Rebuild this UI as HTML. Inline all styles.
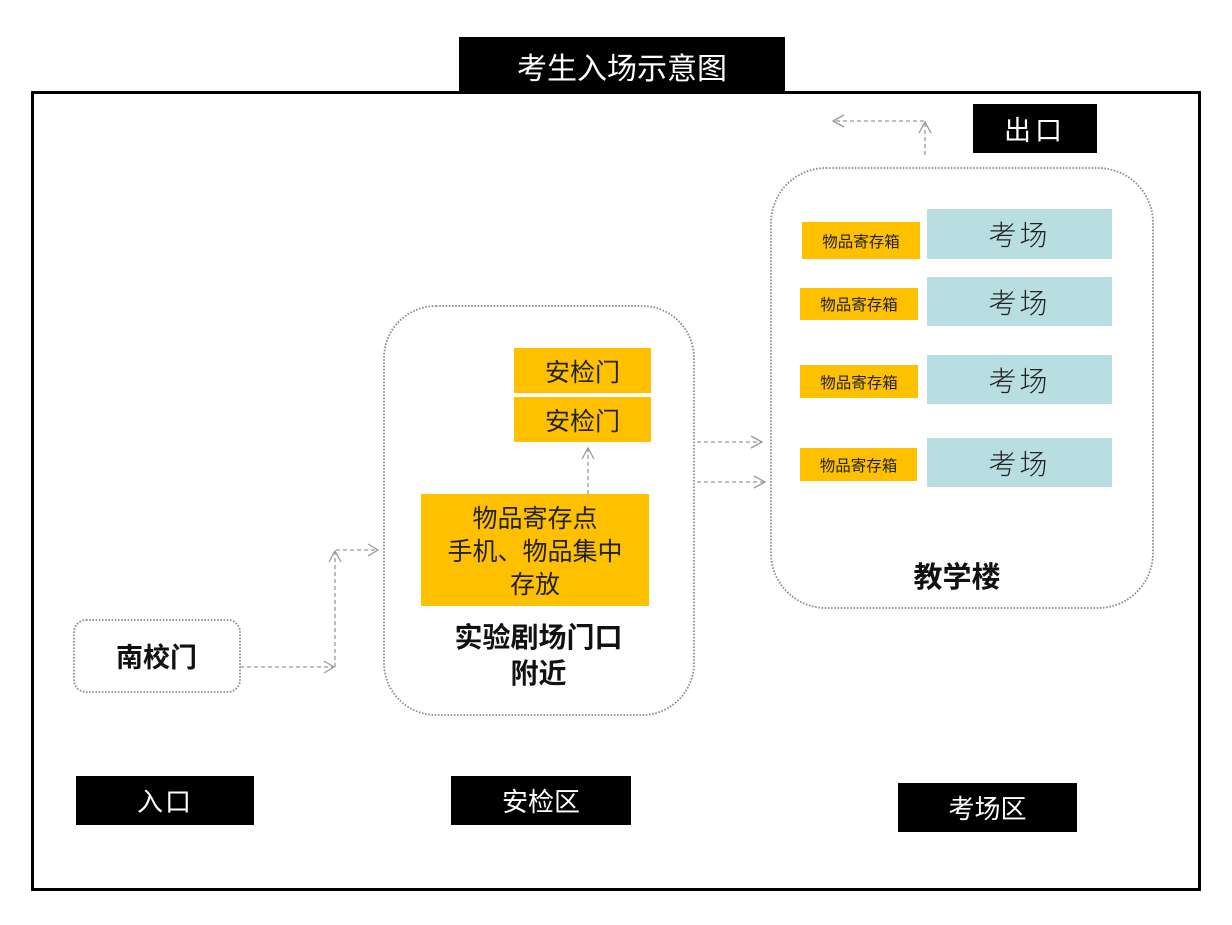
<!DOCTYPE html>
<html>
<head>
<meta charset="utf-8">
<style>
html,body{margin:0;padding:0;background:#fff;}
body{width:1232px;height:925px;position:relative;overflow:hidden;font-family:"Liberation Sans","Noto Sans CJK SC",sans-serif;}
.a{position:absolute;box-sizing:border-box;}
.blk{background:#000;color:#fff;display:flex;align-items:center;justify-content:center;font-family:"Noto Sans CJK SC",sans-serif;font-weight:400;}
.org{background:#FFC000;color:#222;display:flex;align-items:center;justify-content:center;font-family:"Noto Sans CJK SC",sans-serif;}
.teal{background:#B8DEE2;color:#222;display:flex;align-items:center;justify-content:center;font-family:"Noto Sans CJK SC",sans-serif;font-size:28px;letter-spacing:3px;font-weight:300;}
.bold{font-family:"Noto Sans CJK SC",sans-serif;font-weight:700;color:#111;text-align:center;}
.small{font-size:15.5px;}
</style>
</head>
<body>
<!-- main frame -->
<div class="a" style="left:31px;top:91px;width:1170px;height:800px;border:3px solid #000;"></div>
<!-- title -->
<div class="a blk" style="left:459px;top:37px;width:326px;height:57px;font-size:30px;">考生入场示意图</div>

<!-- exit -->
<div class="a blk" style="left:973px;top:104px;width:124px;height:49px;font-size:27px;letter-spacing:4px;">出口</div>

<!-- containers (dotted) -->
<svg class="a" style="left:0;top:0;" width="1232" height="925" viewBox="0 0 1232 925">
<g fill="none" stroke="#8c8c8c" stroke-width="1.8" stroke-dasharray="1.6 1.6">
  <rect x="74" y="620" width="166" height="72" rx="12"/>
  <rect x="384" y="306" width="310" height="409" rx="52"/>
  <rect x="771" y="168" width="382" height="440" rx="55"/>
</g>
</svg>

<!-- left -->
<div class="a bold" style="left:73px;top:636px;width:167px;font-size:27px;line-height:40px;">南校门</div>

<!-- middle -->
<div class="a org" style="left:514px;top:348px;width:137px;height:45px;font-size:25px;font-weight:400;">安检门</div>
<div class="a org" style="left:514px;top:397px;width:137px;height:45px;font-size:25px;font-weight:400;">安检门</div>
<div class="a org" style="left:421px;top:494px;width:228px;height:112px;font-size:25px;line-height:33px;text-align:center;flex-direction:column;">
<div>物品寄存点</div><div>手机、物品集中</div><div>存放</div></div>
<div class="a bold" style="left:383px;top:618px;width:311px;font-size:28px;line-height:36px;">实验剧场门口<br>附近</div>

<!-- right -->
<div class="a org small" style="left:802px;top:222px;width:118px;height:37px;">物品寄存箱</div>
<div class="a teal" style="left:927px;top:209px;width:185px;height:50px;">考场</div>
<div class="a org small" style="left:800px;top:288px;width:118px;height:32px;">物品寄存箱</div>
<div class="a teal" style="left:927px;top:277px;width:185px;height:49px;">考场</div>
<div class="a org small" style="left:800px;top:365px;width:118px;height:33px;">物品寄存箱</div>
<div class="a teal" style="left:927px;top:355px;width:185px;height:49px;">考场</div>
<div class="a org small" style="left:800px;top:448px;width:117px;height:33px;">物品寄存箱</div>
<div class="a teal" style="left:927px;top:438px;width:185px;height:49px;">考场</div>
<div class="a bold" style="left:770px;top:555px;width:374px;font-size:29px;line-height:40px;">教学楼</div>

<!-- bottom labels -->
<div class="a blk" style="left:76px;top:776px;width:178px;height:49px;font-size:26px;letter-spacing:2px;">入口</div>
<div class="a blk" style="left:451px;top:776px;width:180px;height:49px;font-size:26px;">安检区</div>
<div class="a blk" style="left:898px;top:783px;width:179px;height:49px;font-size:26px;">考场区</div>

<!-- connectors -->
<svg class="a" style="left:0;top:0;" width="1232" height="925" viewBox="0 0 1232 925">
<g fill="none" stroke="#999" stroke-width="1.3">
  <path d="M240 667 H334" stroke-dasharray="4 3"/>
  <path d="M324 661 L334 667 L324 673"/>
  <path d="M335 667 V552" stroke-dasharray="4 3"/>
  <path d="M329 562 L335 551 L341 562"/>
  <path d="M336 550 H378" stroke-dasharray="4 3"/>
  <path d="M368 544 L378 550 L368 556"/>
  <path d="M588 494 V449" stroke-dasharray="4 3"/>
  <path d="M582 459 L588 448 L594 459"/>
  <path d="M697 442 H762" stroke-dasharray="4 3"/>
  <path d="M751 436 L762 442 L751 448"/>
  <path d="M697 482 H765" stroke-dasharray="4 3"/>
  <path d="M754 476 L765 482 L754 488"/>
  <path d="M925 155 V123" stroke-dasharray="4 3"/>
  <path d="M919 133 L925 122 L931 133"/>
  <path d="M924 121 H834" stroke-dasharray="4 3"/>
  <path d="M844 115 L833 121 L844 127"/>
</g>
</svg>
</body>
</html>
